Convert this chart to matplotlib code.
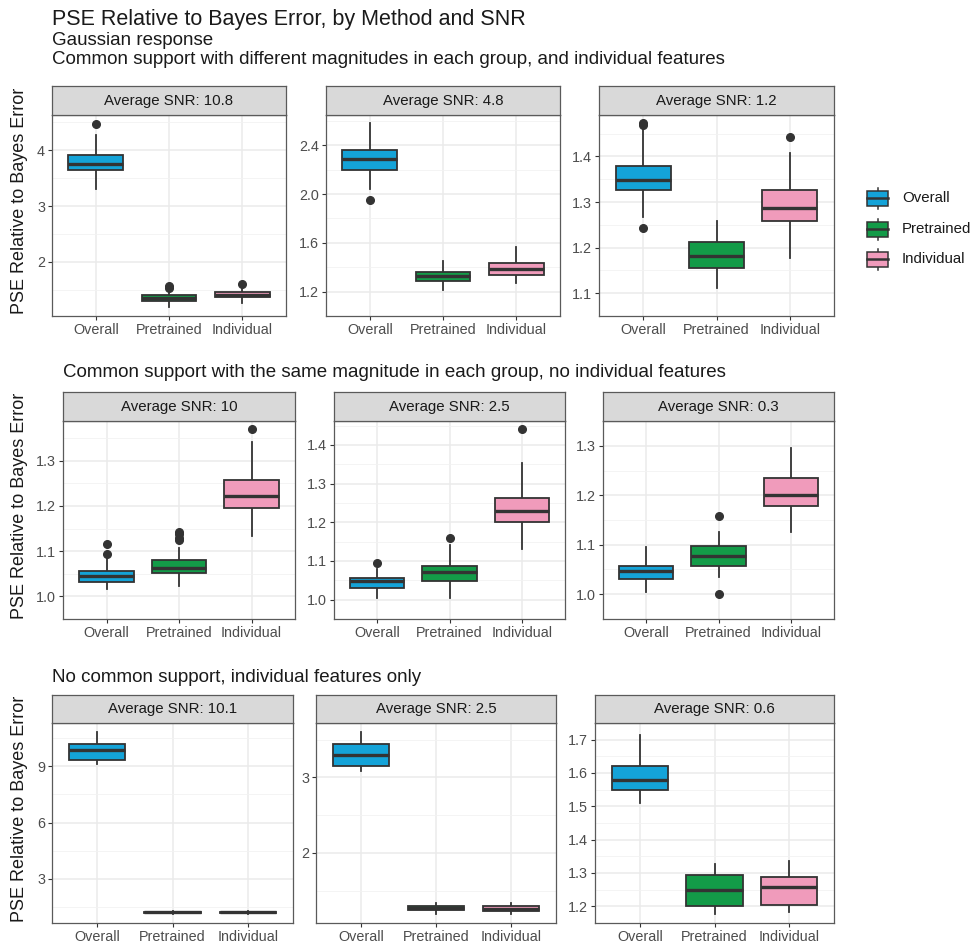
import matplotlib
matplotlib.use('Agg')
import matplotlib.pyplot as plt
from matplotlib.patches import Rectangle

plt.rcParams['font.family'] = ['Liberation Sans', 'DejaVu Sans']

W, H = 976, 947

methods = ['Overall', 'Pretrained', 'Individual']
colors = ['#14A3D8', '#139B48', '#F09BBB']

title = 'PSE Relative to Bayes Error, by Method and SNR'
subtitle_top = 'Gaussian response'
row_titles = ['Common support with different magnitudes in each group, and individual features',
              'Common support with the same magnitude in each group, no individual features',
              'No common support, individual features only']
ylabel = 'PSE Relative to Bayes Error'

snr_labels = [['Average SNR: 10.8', 'Average SNR: 4.8', 'Average SNR: 1.2'],
              ['Average SNR: 10', 'Average SNR: 2.5', 'Average SNR: 0.3'],
              ['Average SNR: 10.1', 'Average SNR: 2.5', 'Average SNR: 0.6']]

# ---- Row 1: common support, different magnitudes ----
p11_lo = [3.31, 1.19, 1.26]
p11_q1 = [3.65, 1.30, 1.36]
p11_med = [3.76, 1.35, 1.41]
p11_q3 = [3.92, 1.40, 1.46]
p11_hi = [4.28, 1.45, 1.52]
p11_out = [[4.47], [1.53, 1.56], [1.60]]
p11_ticks = [2, 3, 4]

p12_lo = [2.04, 1.21, 1.27]
p12_q1 = [2.20, 1.285, 1.335]
p12_med = [2.29, 1.325, 1.385]
p12_q3 = [2.36, 1.36, 1.435]
p12_hi = [2.58, 1.45, 1.565]
p12_out = [[1.95], [], []]
p12_ticks = [1.2, 1.6, 2.0, 2.4]

p13_lo = [1.267, 1.112, 1.177]
p13_q1 = [1.327, 1.156, 1.258]
p13_med = [1.348, 1.181, 1.287]
p13_q3 = [1.38, 1.212, 1.326]
p13_hi = [1.46, 1.259, 1.408]
p13_out = [[1.473, 1.469, 1.243], [], [1.443]]
p13_ticks = [1.1, 1.2, 1.3, 1.4]

# ---- Row 2: common support, same magnitude ----
p21_lo = [1.016, 1.023, 1.133]
p21_q1 = [1.0325, 1.052, 1.195]
p21_med = [1.044, 1.062, 1.223]
p21_q3 = [1.0565, 1.081, 1.258]
p21_hi = [1.088, 1.107, 1.341]
p21_out = [[1.094, 1.115], [1.124, 1.13, 1.137, 1.142], [1.37]]
p21_ticks = [1.0, 1.1, 1.2, 1.3]

p22_lo = [1.004, 1.004, 1.132]
p22_q1 = [1.03, 1.047, 1.2]
p22_med = [1.047, 1.072, 1.23]
p22_q3 = [1.056, 1.087, 1.264]
p22_hi = [1.08, 1.141, 1.354]
p22_out = [[1.096], [1.159], [1.44]]
p22_ticks = [1.0, 1.1, 1.2, 1.3, 1.4]

p23_lo = [1.005, 1.034, 1.126]
p23_q1 = [1.031, 1.058, 1.179]
p23_med = [1.047, 1.077, 1.201]
p23_q3 = [1.0575, 1.098, 1.235]
p23_hi = [1.096, 1.126, 1.296]
p23_out = [[], [1.159, 1.0], []]
p23_ticks = [1.0, 1.1, 1.2, 1.3]

# ---- Row 3: no common support ----
p31_lo = [9.14, 1.12, 1.12]
p31_q1 = [9.32, 1.16, 1.16]
p31_med = [9.85, 1.20, 1.20]
p31_q3 = [10.21, 1.24, 1.24]
p31_hi = [10.83, 1.27, 1.27]
p31_out = [[], [], []]
p31_ticks = [3, 6, 9]

p32_lo = [3.09, 1.19, 1.19]
p32_q1 = [3.15, 1.24, 1.235]
p32_med = [3.29, 1.27, 1.26]
p32_q3 = [3.44, 1.30, 1.29]
p32_hi = [3.60, 1.34, 1.33]
p32_out = [[], [], []]
p32_ticks = [2, 3]

p33_lo = [1.51, 1.178, 1.183]
p33_q1 = [1.55, 1.202, 1.205]
p33_med = [1.579, 1.249, 1.259]
p33_q3 = [1.62, 1.295, 1.288]
p33_hi = [1.713, 1.326, 1.336]
p33_out = [[], [], []]
p33_ticks = [1.2, 1.3, 1.4, 1.5, 1.6, 1.7]

panels = [
    [(p11_lo, p11_q1, p11_med, p11_q3, p11_hi, p11_out, p11_ticks),
     (p12_lo, p12_q1, p12_med, p12_q3, p12_hi, p12_out, p12_ticks),
     (p13_lo, p13_q1, p13_med, p13_q3, p13_hi, p13_out, p13_ticks)],
    [(p21_lo, p21_q1, p21_med, p21_q3, p21_hi, p21_out, p21_ticks),
     (p22_lo, p22_q1, p22_med, p22_q3, p22_hi, p22_out, p22_ticks),
     (p23_lo, p23_q1, p23_med, p23_q3, p23_hi, p23_out, p23_ticks)],
    [(p31_lo, p31_q1, p31_med, p31_q3, p31_hi, p31_out, p31_ticks),
     (p32_lo, p32_q1, p32_med, p32_q3, p32_hi, p32_out, p32_ticks),
     (p33_lo, p33_q1, p33_med, p33_q3, p33_hi, p33_out, p33_ticks)],
]

# layout (pixels)
row_y = [(86, 115, 316), (392, 421, 619), (695, 723, 923)]
row_x = [[(52, 286), (326, 560), (599, 834)],
         [(63, 295), (334, 565), (603, 834)],
         [(52, 293), (316, 556), (595, 834)]]
row_title_base = [63.5, 377, 682]

fig = plt.figure(figsize=(W / 100, H / 100), dpi=100)


def px_rect(x0, x1, y0, y1):
    return [x0 / W, 1 - y1 / H, (x1 - x0) / W, (y1 - y0) / H]


def fmt_tick(v, ticks):
    if all(abs(t - round(t)) < 1e-9 for t in ticks):
        return '%d' % round(v)
    return '%.1f' % v


edge = '#333333'
border = '#5A5A5A'
for r in range(3):
    st, pt, pb = row_y[r]
    for c in range(3):
        x0, x1 = row_x[r][c]
        lo, q1, med, q3, hi, out, ticks = panels[r][c]
        ax = fig.add_axes(px_rect(x0, x1, pt, pb))
        stats = []
        for i in range(3):
            stats.append(dict(whislo=lo[i], q1=q1[i], med=med[i], q3=q3[i],
                              whishi=hi[i], fliers=out[i]))
        bp = ax.bxp(stats, positions=[1, 2, 3], widths=0.75, patch_artist=True,
                    showcaps=False,
                    boxprops=dict(edgecolor=edge, linewidth=1.3),
                    whiskerprops=dict(color=edge, linewidth=1.3),
                    medianprops=dict(color=edge, linewidth=2.4, solid_capstyle='butt'),
                    flierprops=dict(marker='o', markerfacecolor=edge, markeredgecolor=edge,
                                    markersize=5.5))
        for patch, col in zip(bp['boxes'], colors):
            patch.set_facecolor(col)
        for ln in bp['whiskers']:
            ln.set_zorder(1.5)
        allv = lo + hi + [v for o in out for v in o]
        vmin, vmax = min(allv), max(allv)
        rng = vmax - vmin
        ax.set_ylim(vmin - 0.05 * rng, vmax + 0.05 * rng)
        ax.set_xlim(0.4, 3.6)
        ax.set_yticks(ticks)
        ax.set_yticklabels([fmt_tick(t, ticks) for t in ticks])
        step = ticks[1] - ticks[0]
        minors = [ticks[0] - step / 2] + [t + step / 2 for t in ticks]
        ax.set_yticks(minors, minor=True)
        ax.set_xticks([1, 2, 3])
        ax.set_xticklabels(methods)
        ax.set_axisbelow(True)
        ax.grid(True, which='major', color='#EBEBEB', linewidth=1.1)
        ax.grid(True, which='minor', axis='y', color='#F2F2F2', linewidth=0.6)
        ax.tick_params(which='major', length=3, width=0.8, color=edge,
                       labelsize=10.4, labelcolor='#4D4D4D', pad=2)
        ax.tick_params(which='minor', length=0)
        for s in ax.spines.values():
            s.set_color(border)
            s.set_linewidth(0.9)
        # strip
        sax = fig.add_axes(px_rect(x0, x1, st, pt))
        sax.set_facecolor('#D9D9D9')
        sax.set_xticks([])
        sax.set_yticks([])
        for s in sax.spines.values():
            s.set_color(border)
            s.set_linewidth(0.9)
        sax.text(0.5, 0.5, snr_labels[r][c], ha='center', va='center',
                 fontsize=10.8, color='#1A1A1A', transform=sax.transAxes)
    # row title
    fig.text(row_x[r][0][0] / W, 1 - row_title_base[r] / H, row_titles[r],
             fontsize=13.5, color='#1A1A1A', va='baseline', ha='left')
    # y label
    fig.text(20 / W, 1 - ((st + pb) / 2) / H, ylabel, rotation=90,
             fontsize=13, color='#1A1A1A', ha='center', va='center')

fig.text(52 / W, 1 - 25 / H, title, fontsize=15.5, color='#1A1A1A',
         va='baseline', ha='left')
fig.text(52 / W, 1 - 45 / H, subtitle_top, fontsize=13.5, color='#1A1A1A',
         va='baseline', ha='left')

# legend
lax = fig.add_axes([0, 0, 1, 1], facecolor='none')
lax.set_xlim(0, W)
lax.set_ylim(H, 0)
lax.axis('off')
leg_y = [198, 229, 259]
for lab, col, yc in zip(methods, colors, leg_y):
    lax.plot([877.5, 877.5], [yc - 10.5, yc + 10.5], color=edge, lw=1.1, zorder=1)
    lax.add_patch(Rectangle((867, yc - 7.5), 21, 15, facecolor=col,
                            edgecolor=edge, lw=1.1, zorder=2))
    lax.plot([867, 888], [yc, yc], color=edge, lw=1.8, zorder=3)
    lax.text(902, yc, lab, fontsize=10.8, color='#1A1A1A', va='center', ha='left')

fig.savefig('out.png', dpi=100)
